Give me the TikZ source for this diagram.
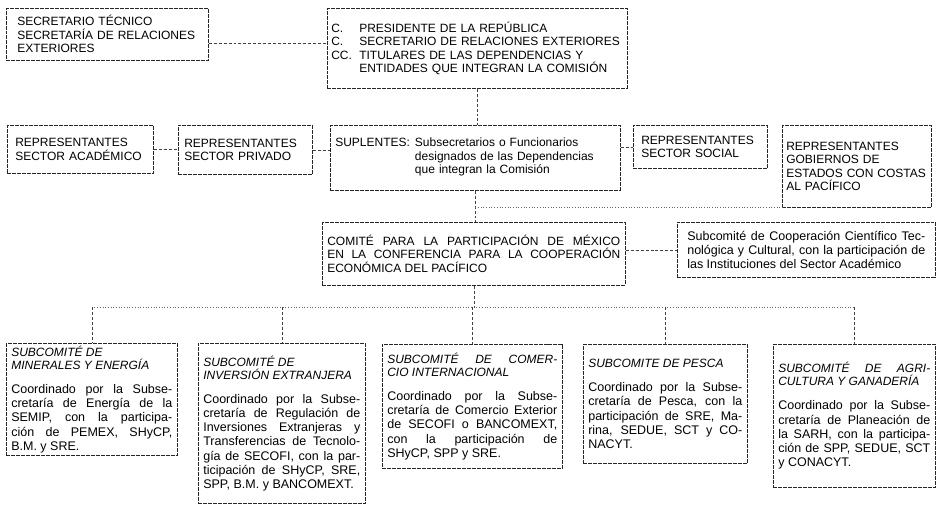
\documentclass[tikz,border=0pt]{standalone}
\usepackage{fontspec}
\setmainfont{Liberation Sans}
\hyphenpenalty=10000
\exhyphenpenalty=10000
\newcommand{\etiq}[1]{\makebox[28bp][l]{#1}}
\newcommand{\titsub}{\itshape\fontsize{12bp}{13bp}\selectfont}

\begin{document}
\begin{tikzpicture}[x=1bp,y=-1bp]
    \tikzset{
        caja/.style={draw=black!85,dash pattern=on 4pt off 1pt,line width=0.6pt,anchor=north west,
            inner xsep=6bp,inner ysep=2bp,align=left,
            font=\fontsize{12bp}{13.5bp}\selectfont},
        cajajus/.style={caja,align=justify,inner xsep=5bp,font=\fontsize{12.5bp}{14.2bp}\selectfont},
        enlace/.style={black!75,densely dashed,line width=0.5pt},
        bus/.style={black!60,dotted,line width=0.7pt}
    }
    \useasboundingbox (0,0) rectangle (936,510);

    % fila superior
    \node[caja,inner xsep=11bp,text width=180bp,minimum height=52bp] (sectec) at (6,8)
        {SECRETARIO TÉCNICO\\SECRETARÍA DE RELACIONES\\EXTERIORES};
    \node[caja,inner xsep=4bp,text width=292bp,minimum height=80bp] (presi) at (327,8)
        {\etiq{C.}PRESIDENTE DE LA REPÚBLICA\\
         \etiq{C.}SECRETARIO DE RELACIONES EXTERIORES\\
         \etiq{CC.}TITULARES DE LAS DEPENDENCIAS Y\\
         \etiq{}ENTIDADES QUE INTEGRAN LA COMISIÓN};

    % representantes y suplentes
    \node[caja,inner xsep=8bp,text width=130bp,minimum height=48bp] (acad) at (7,125)
        {REPRESENTANTES\\SECTOR ACADÉMICO};
    \node[caja,text width=122bp,minimum height=49bp] (priv) at (178,125)
        {REPRESENTANTES\\SECTOR PRIVADO};
    \node[caja,inner xsep=5bp,text width=280bp,minimum height=65bp] (supl) at (330,125)
        {\begin{tabular}{@{}l@{\hspace{5bp}}p{198bp}@{}}
            SUPLENTES: & Subsecretarios o Funcionarios\linebreak designados de las Dependencias\linebreak que integran la Comisión
         \end{tabular}};
    \node[caja,inner xsep=8bp,text width=118bp,minimum height=43bp] (social) at (633,125)
        {REPRESENTANTES\\SECTOR SOCIAL};
    \node[caja,inner xsep=4bp,text width=141bp,minimum height=82bp] (gobest) at (782,125)
        {REPRESENTANTES\\GOBIERNOS DE\\ESTADOS CON COSTAS\\AL PACÍFICO};

    % comite
    \node[caja,align=justify,inner xsep=5bp,text width=293bp,minimum height=63bp] (comite) at (322,222)
        {COMITÉ PARA LA PARTICIPACIÓN DE MÉXICO\linebreak EN LA CONFERENCIA PARA LA COOPERACIÓN\linebreak ECONÓMICA DEL PACÍFICO};
    \node[cajajus,inner xsep=10bp,text width=238bp,minimum height=55bp] (coop) at (677,222)
        {Subcomité de Cooperación Científico Tec-\linebreak nológica y Cultural, con la participación de\linebreak las Instituciones del Sector Académico};

    % subcomites
    \node[cajajus,text width=161bp,minimum height=112bp] (minen) at (6,343)
        {{\titsub SUBCOMITÉ DE\\MINERALES Y ENERGÍA\par}\vspace{10bp}
         Coordinado por la Subse-\linebreak cretaría de Energía de la\linebreak SEMIP, con la participa-\linebreak ción de PEMEX, SHyCP,\linebreak B.M. y SRE.};
    \node[cajajus,text width=157bp,minimum height=160bp] (inver) at (198,343)
        {{\titsub SUBCOMITÉ DE\\INVERSIÓN EXTRANJERA\par}\vspace{10bp}
         Coordinado por la Subse-\linebreak cretaría de Regulación de\linebreak Inversiones Extranjeras y\linebreak Transferencias de Tecnolo-\linebreak gía de SECOFI, con la par-\linebreak ticipación de SHyCP, SRE,\linebreak SPP, B.M. y BANCOMEXT.};
    \node[cajajus,text width=170bp,minimum height=124bp] (comer) at (382,344)
        {{\titsub SUBCOMITÉ DE COMER-\linebreak CIO INTERNACIONAL\par}\vspace{10bp}
         Coordinado por la Subse-\linebreak cretaría de Comercio Exterior\linebreak de SECOFI o BANCOMEXT,\linebreak con la participación de\linebreak SHyCP, SPP y SRE.};
    \node[cajajus,text width=154bp,minimum height=119bp] (pesca) at (583,344)
        {{\titsub SUBCOMITE DE PESCA\par}\vspace{10bp}
         Coordinado por la Subse-\linebreak cretaría de Pesca, con la\linebreak participación de SRE, Ma-\linebreak rina, SEDUE, SCT y CO-\linebreak NACYT.};
    \node[cajajus,text width=152bp,minimum height=143bp] (agri) at (773,344)
        {{\titsub SUBCOMITÉ DE AGRI-\linebreak CULTURA Y GANADERÍA\par}\vspace{10bp}
         Coordinado por la Subse-\linebreak cretaría de Planeación de\linebreak la SARH, con la participa-\linebreak ción de SPP, SEDUE, SCT\linebreak y CONACYT.};

    % enlaces
    \draw[enlace] ([yshift=-9bp]sectec.east) -- ([yshift=-9bp]sectec.east -| presi.west);
    \draw[enlace] (presi.south) -- (presi.south |- supl.north);
    \draw[enlace] (acad.east) -- (acad.east -| priv.west);
    \draw[enlace] (priv.east) -- (priv.east -| supl.west);
    \draw[enlace] (social.west -| supl.east) -- (social.west);
    \draw[enlace] (supl.south) -- (supl.south |- comite.north);
    \coordinate (ramal) at (supl.south |- gobest.south);
    \draw[bus] (ramal) -- (gobest.south west);
    \draw[enlace] (comite.east |- coop.west) -- (coop.west);
    \coordinate (barra) at (comite.south |- 0,307);
    \draw[enlace] (comite.south) -- (barra);
    \draw[bus] (minen.north |- barra) -- (agri.north |- barra);
    \foreach \nodo in {minen,inver,comer,pesca,agri}
        \draw[enlace] (\nodo.north |- barra) -- (\nodo.north);
\end{tikzpicture}
\end{document}
